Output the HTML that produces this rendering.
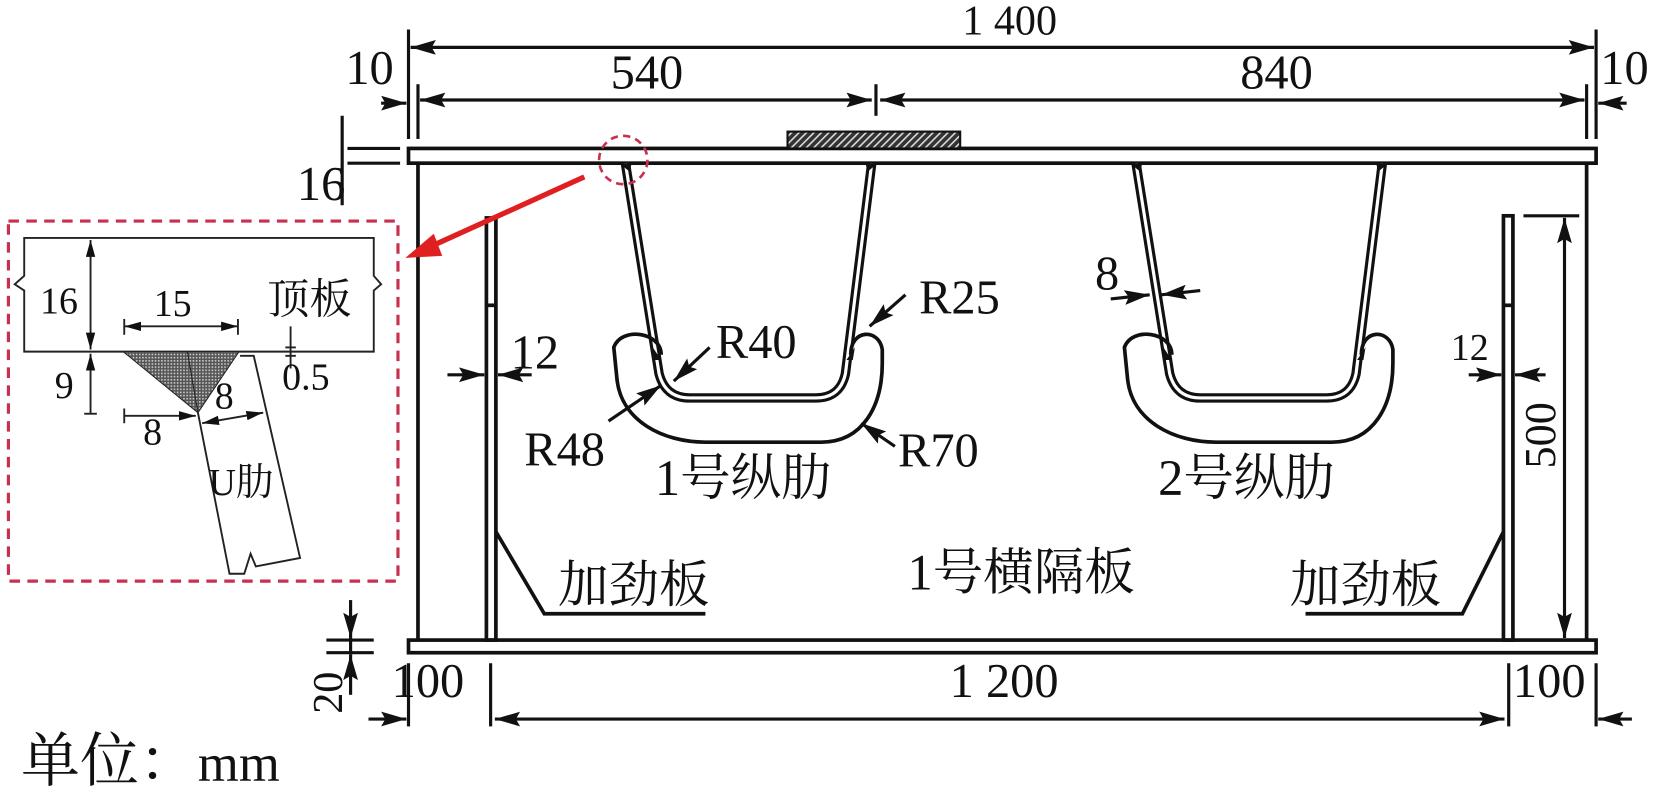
<!DOCTYPE html>
<html><head><meta charset="utf-8"><style>
html,body{margin:0;padding:0;background:#fff;width:1654px;height:798px;overflow:hidden}
svg{display:block}
text{font-family:"Liberation Serif","Noto Serif CJK SC",serif;fill:#111}
.cn{font-family:"Liberation Serif","Noto Serif CJK SC","Noto Sans CJK SC",serif}
</style></head><body>
<svg width="1654" height="798" viewBox="0 0 1571 758" preserveAspectRatio="none" xmlns="http://www.w3.org/2000/svg">
<defs>
<marker id="a" viewBox="0 0 24 14" refX="24" refY="7" markerWidth="24" markerHeight="14" markerUnits="userSpaceOnUse" orient="auto-start-reverse"><path d="M0,0 L24,7 L0,14 L4,7 z" fill="#111"/></marker>
<marker id="s" viewBox="0 0 18 10" refX="18" refY="5" markerWidth="16" markerHeight="9" markerUnits="userSpaceOnUse" orient="auto-start-reverse"><path d="M0,0 L18,5 L0,10 z" fill="#111"/></marker>
<pattern id="h" width="5" height="5" patternUnits="userSpaceOnUse" patternTransform="rotate(45)"><rect width="5" height="5" fill="#333"/><rect width="1.5" height="5" fill="#ddd"/></pattern>
<pattern id="d" width="3" height="3" patternUnits="userSpaceOnUse"><rect width="3" height="3" fill="#555"/><rect width="1.5" height="1.5" fill="#ccc"/></pattern>
<g id="rib">
<path d="M594,155 L626,355 Q632,378 655,378 L775,378 Q798,378 803,355 L828,155" fill="none" stroke="#111" stroke-width="9"/>
<path d="M594,155 L626,355 Q632,378 655,378 L775,378 Q798,378 803,355 L828,155" fill="none" stroke="#fff" stroke-width="3"/>
<path d="M628,337 C628,315 590,310 583,330 L586,360 C590,400 630,420 670,420 L780,420 C820,420 838,385 838,345 L838,332 C835,312 808,312 808,337" fill="none" stroke="#111" stroke-width="3.5"/>
<path d="M620,330 l8,12 l-6,0z M812,330 l-8,12 l6,0z M588,155 l10,8 l2,-8z M834,155 l-10,8 l-2,-8z" fill="#111"/>
</g>
</defs>
<g stroke="#111" stroke-width="3.5" fill="none">
<rect x="388" y="141" width="1128" height="14" fill="#fff"/>
<rect x="388" y="608" width="1128" height="12" fill="#fff"/>
<line x1="397" y1="155" x2="397" y2="608"/>
<line x1="1507" y1="155" x2="1507" y2="608"/>
<rect x="462" y="207" width="9" height="401"/>
<rect x="1428" y="205" width="9" height="403"/>
<line x1="1428" y1="290" x2="1437" y2="290"/>
<line x1="462" y1="290" x2="471" y2="290"/>
<polyline points="471,505 517,583 670,583"/>
<polyline points="1428,505 1389,583 1240,583"/>
</g>
<rect x="748" y="125" width="164" height="16" fill="url(#h)" stroke="#111" stroke-width="2"/>
<use href="#rib"/>
<use href="#rib" transform="translate(485,0)"/>
<g stroke="#111" stroke-width="3" fill="none">
<line x1="388" y1="28" x2="388" y2="132"/><line x1="397" y1="80" x2="397" y2="132"/>
<line x1="1516" y1="28" x2="1516" y2="132"/><line x1="1507" y1="80" x2="1507" y2="132"/>
<line x1="832" y1="80" x2="832" y2="110"/>
<line x1="390" y1="45" x2="1514" y2="45" marker-start="url(#a)" marker-end="url(#a)"/>
<line x1="399" y1="95" x2="828" y2="95" marker-start="url(#a)" marker-end="url(#a)"/>
<line x1="836" y1="95" x2="1505" y2="95" marker-start="url(#a)" marker-end="url(#a)"/>
<line x1="362" y1="98" x2="386" y2="98" marker-end="url(#a)"/>
<line x1="1545" y1="98" x2="1518" y2="98" marker-end="url(#a)"/>
<line x1="330" y1="141" x2="380" y2="141"/><line x1="330" y1="155" x2="380" y2="155"/>
<line x1="325" y1="110" x2="325" y2="195"/>
<line x1="310" y1="608" x2="355" y2="608"/><line x1="310" y1="620" x2="355" y2="620"/>
<line x1="333" y1="570" x2="333" y2="606" marker-end="url(#a)"/>
<line x1="333" y1="660" x2="333" y2="622" marker-end="url(#a)"/>
<line x1="333" y1="606" x2="333" y2="622"/>
<line x1="388" y1="630" x2="388" y2="690"/><line x1="466" y1="630" x2="466" y2="690"/>
<line x1="1433" y1="630" x2="1433" y2="690"/><line x1="1516" y1="630" x2="1516" y2="690"/>
<line x1="470" y1="683" x2="1429" y2="683" marker-start="url(#a)" marker-end="url(#a)"/>
<line x1="350" y1="683" x2="386" y2="683" marker-end="url(#a)"/>
<line x1="1550" y1="683" x2="1518" y2="683" marker-end="url(#a)"/>
<line x1="1447" y1="205" x2="1500" y2="205"/>
<line x1="1486" y1="207" x2="1486" y2="606" marker-start="url(#a)" marker-end="url(#a)"/>
<line x1="425" y1="356" x2="460" y2="356" marker-end="url(#a)"/>
<line x1="505" y1="356" x2="473" y2="356" marker-end="url(#a)"/>
<line x1="1395" y1="356" x2="1426" y2="356" marker-end="url(#a)"/>
<line x1="1468" y1="356" x2="1439" y2="356" marker-end="url(#a)"/>
<line x1="1055" y1="284" x2="1092" y2="280" marker-end="url(#a)"/>
<line x1="1140" y1="276" x2="1103" y2="280" marker-end="url(#a)"/>
<line x1="674" y1="330" x2="640" y2="362" marker-end="url(#a)"/>
<line x1="860" y1="280" x2="826" y2="310" marker-end="url(#a)"/>
<line x1="578" y1="400" x2="628" y2="366" marker-end="url(#a)"/>
<line x1="850" y1="424" x2="818" y2="402" marker-end="url(#a)"/>
</g>
<rect x="8" y="210" width="370" height="342" fill="none" stroke="#c8304f" stroke-width="3" stroke-dasharray="10,7"/>
<circle cx="592" cy="152" r="23" fill="none" stroke="#c8304f" stroke-width="2.5" stroke-dasharray="7,5"/>
<line x1="555" y1="168" x2="405" y2="236" stroke="#e02020" stroke-width="5"/>
<path d="M385,245 L412,222 L420,243 z" fill="#e02020"/>
<g stroke="#222" stroke-width="1.8" fill="none">
<path d="M23,226 L355,226 L355,262 L362,270 L355,276 L355,334 L23,334 L23,276 L14,270 L23,262 z" fill="#fff"/>
<path d="M228,338 L241,338 L285,530 L243,538 L238,526 L232,545 L218,545 L188,392"/>
<line x1="86" y1="228" x2="86" y2="332" marker-start="url(#s)" marker-end="url(#s)"/><line x1="86" y1="336" x2="86" y2="393" marker-start="url(#s)"/><line x1="80" y1="393" x2="92" y2="393"/>
<line x1="118" y1="310" x2="226" y2="310" marker-start="url(#s)" marker-end="url(#s)"/><line x1="118" y1="303" x2="118" y2="318"/><line x1="226" y1="303" x2="226" y2="318"/>
<line x1="118" y1="395" x2="186" y2="395" marker-end="url(#s)"/><line x1="118" y1="388" x2="118" y2="402"/>
<line x1="192" y1="402" x2="250" y2="392" marker-start="url(#s)" marker-end="url(#s)"/>
<line x1="276" y1="310" x2="276" y2="350"/><line x1="271" y1="330" x2="281" y2="330"/><line x1="271" y1="338" x2="281" y2="338"/>
</g>
<path d="M117,334 L227,334 L188,392 z" fill="url(#d)" stroke="#222" stroke-width="1"/>
<line x1="188" y1="392" x2="178" y2="334" stroke="#222" stroke-width="1"/>
<g font-size="36">
<text x="38" y="298">16</text><text x="146" y="300">15</text><text x="52" y="378">9</text>
<text x="204" y="388">8</text><text x="136" y="422">8</text><text x="268" y="370">0.5</text>
<text x="198" y="470">U<tspan class="cn">肋</tspan></text>
<text x="254" y="298" class="cn" font-size="40">顶板</text>
</g>
<g font-size="46">
<text x="914" y="33" font-size="40">1 400</text><text x="580" y="84">540</text><text x="1178" y="84">840</text>
<text x="328" y="80">10</text><text x="1520" y="80">10</text>
<text x="282" y="190">16</text>
<text x="485" y="350">12</text><text x="1378" y="342" font-size="36">12</text>
<text x="1040" y="275">8</text>
<text x="680" y="340">R40</text><text x="873" y="298">R25</text>
<text x="498" y="442">R48</text><text x="853" y="443">R70</text>
<text x="372" y="662">100</text><text x="902" y="662">1 200</text><text x="1437" y="662">100</text>
<text transform="translate(325,678) rotate(-90)" font-size="40">20</text>
<text transform="translate(1477,445) rotate(-90)" font-size="42">500</text>
</g>
<g class="cn" font-size="48">
<text x="622" y="470">1号纵肋</text><text x="1100" y="470">2号纵肋</text>
<text x="530" y="572">加劲板</text><text x="1225" y="572">加劲板</text>
<text x="862" y="560">1号横隔板</text>
<text x="20" y="742" font-size="56">单位：<tspan font-family="Liberation Serif" font-size="50">mm</tspan></text>
</g>
</svg>
</body></html>
